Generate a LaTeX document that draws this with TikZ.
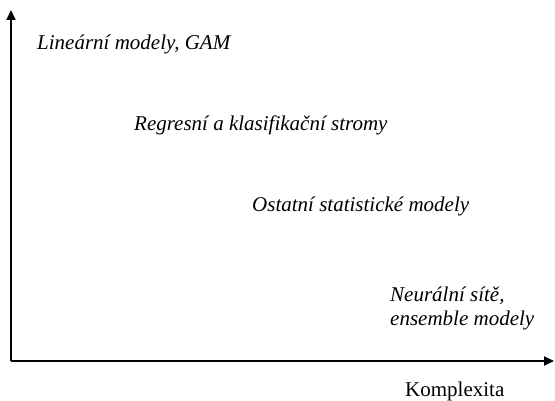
\documentclass[tikz,border=0pt]{standalone}
\usepackage{fontspec}
\setmainfont{Liberation Serif}
\usetikzlibrary{arrows.meta}
\begin{document}
\begin{tikzpicture}[x=1pt,y=-1pt,
  lbl/.style={anchor=base west,inner sep=0pt,font=\fontsize{21}{24.5}\selectfont\itshape},
  axis/.style={line width=2pt,-{Triangle[length=10pt,width=9pt]}}]
\useasboundingbox (0,0) rectangle (555,401);
\coordinate (o) at (11,361);
\coordinate (ytop) at (11,10);
\coordinate (xend) at (554,361);
\draw[axis] (o) -- (ytop);
\draw[axis] (o) -- (xend);
\node[lbl] (a) at (37,50) {Lineární modely, GAM};
\node[lbl] (b) at (134,131) {Regresní a klasifikační stromy};
\node[lbl] (c) at (252,212) {Ostatní statistické modely};
\node[lbl] (d1) at (390,301.5) {Neurální sítě,};
\node[lbl] (d2) at (390,326) {ensemble modely};
\node[anchor=base west,inner sep=0pt,font=\fontsize{21}{24}\selectfont] (k) at (405,396) {Komplexita};
\end{tikzpicture}
\end{document}
